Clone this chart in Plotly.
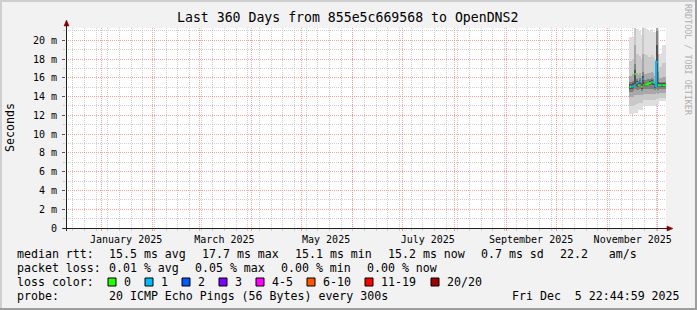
import plotly.graph_objects as go
from datetime import datetime, timedelta

# ---------------- data ----------------
title_text = "Last 360 Days from 855e5c669568 to OpenDNS2"
range_start = "2024-12-10 22:44:59"
range_end = "2025-12-05 22:44:59"

days = ["2025-11-14", "2025-11-15", "2025-11-16", "2025-11-17", "2025-11-18",
        "2025-11-19", "2025-11-20", "2025-11-21", "2025-11-22", "2025-11-23",
        "2025-11-24", "2025-11-25", "2025-11-26", "2025-11-27", "2025-11-28",
        "2025-11-29", "2025-11-30", "2025-12-01", "2025-12-02", "2025-12-03",
        "2025-12-04", "2025-12-05"]

# median rtt (ms) and lost pings per day
median_ms = [15.05, 15.05, 15.1, 16.4, 15.45, 15.2, 15.6, 15.05, 15.9, 15.3, 15.3,
             15.4, 15.45, 15.55, 15.5, 15.1, 17.7, 15.2, 15.2, 15.2, 15.2, 15.2]
loss_count = [0, 1, 1, 0, 1, 0, 1, 0, 1, 0, 0, 0, 0, 1, 0, 1, 1, 0, 0, 1, 0, 0]

# smoke bands (ms), outermost to innermost
band1_hi = [20.3, 20.3, 20.4, 21.4, 21.2, 21.2, 21.0, 20.6, 21.4, 21.4, 21.2,
            21.0, 21.0, 21.2, 20.9, 20.9, 21.4, 21.4, 18.5, 18.6, 19.5, 19.5]
band1_lo = [12.2, 12.2, 12.2, 12.3, 12.3, 12.6, 12.6, 12.6, 13.0, 13.0, 13.0,
            13.0, 13.0, 13.0, 13.0, 13.0, 13.2, 13.2, 13.5, 13.5, 13.5, 13.5]
band2_hi = [17.8, 17.8, 18.0, 21.4, 18.5, 18.5, 18.3, 18.0, 21.4, 18.5, 18.4,
            18.2, 18.2, 18.4, 18.2, 18.0, 21.4, 21.0, 17.2, 17.3, 17.6, 17.6]
band2_lo = [13.0, 13.0, 13.0, 13.1, 13.2, 13.3, 13.3, 13.3, 13.6, 13.6, 13.6,
            13.6, 13.6, 13.6, 13.6, 13.6, 13.7, 13.7, 13.9, 13.9, 13.9, 13.9]
band3_hi = [16.2, 16.2, 16.4, 19.5, 16.5, 16.3, 16.5, 16.2, 18.5, 16.4, 16.4,
            16.5, 16.5, 16.6, 16.5, 16.2, 21.4, 18.5, 16.0, 16.0, 16.1, 16.1]
band3_lo = [14.0, 14.0, 14.0, 14.2, 14.2, 14.2, 14.2, 14.2, 14.3, 14.3, 14.3,
            14.3, 14.3, 14.3, 14.3, 14.3, 14.4, 14.3, 14.4, 14.4, 14.4, 14.4]
band4_hi = [15.6, 15.6, 15.7, 17.5, 15.9, 15.7, 16.0, 15.6, 16.6, 15.8, 15.8,
            15.9, 15.9, 16.0, 15.9, 15.6, 21.0, 16.6, 15.6, 15.6, 15.6, 15.6]
band4_lo = [14.5, 14.5, 14.6, 14.8, 14.7, 14.7, 14.8, 14.6, 14.8, 14.8, 14.8,
            14.8, 14.8, 14.8, 14.8, 14.7, 14.8, 14.7, 14.8, 14.8, 14.8, 14.8]
band5_hi = [15.3, 15.3, 15.4, 16.8, 15.7, 15.4, 15.8, 15.3, 16.2, 15.5, 15.5,
            15.6, 15.7, 15.8, 15.7, 15.3, 19.5, 15.6, 15.4, 15.4, 15.4, 15.4]
band5_lo = [14.8, 14.8, 14.9, 15.3, 15.1, 15.0, 15.3, 14.8, 15.3, 15.1, 15.1,
            15.2, 15.2, 15.3, 15.2, 14.9, 15.0, 15.0, 15.0, 15.0, 15.0, 15.0]
band_colors = ["#dedede", "#c8c8c8", "#a8a8a8", "#808080", "#505050"]

month_starts = ["2025-01-01", "2025-02-01", "2025-03-01", "2025-04-01",
                "2025-05-01", "2025-06-01", "2025-07-01", "2025-08-01",
                "2025-09-01", "2025-10-01", "2025-11-01", "2025-12-01"]
month_labels = ["January 2025", "", "March 2025", "", "May 2025", "",
                "July 2025", "", "September 2025", "", "November 2025", ""]
first_week = "2024-12-15"

ytick_vals = [0, 2, 4, 6, 8, 10, 12, 14, 16, 18, 20]
ytick_text = ["0", "2 m", "4 m", "6 m", "8 m", "10 m", "12 m", "14 m",
              "16 m", "18 m", "20 m"]
y_max = 21.31

loss_labels = ["0", "1", "2", "3", "4-5", "6-10", "11-19", "20/20"]
loss_colors = ["#26ff00", "#00b8ff", "#0059ff", "#7e00ff", "#ff00ff",
               "#ff5500", "#ff0000", "#a10000"]

rtt_legend = ["median rtt:", "15.5 ms avg", "17.7 ms max", "15.1 ms min",
              "15.2 ms now", "0.7 ms sd", "22.2   am/s"]
loss_legend = ["packet loss:", "0.01 % avg", "0.05 % max", "0.00 % min",
               "0.00 % now"]
probe_text = "20 ICMP Echo Pings (56 Bytes) every 300s"
date_text = "Fri Dec  5 22:44:59 2025"

# ---------------- layout helpers ----------------
W, H = 697, 310
L, T, PW, PH = 66, 28, 600, 200
FONT = "DejaVu Sans Mono"
MGRID = "rgba(245,128,128,0.75)"
GRID = "rgba(191,191,191,0.75)"


def px(x):
    return (x - L) / PW


def py(y):
    return (T + PH - y) / PH


def nb(s):
    return s.replace(" ", "\u00a0")


fig = go.Figure()

# smoke
day_dt = [datetime.strptime(d, "%Y-%m-%d") for d in days]
centers = [d + timedelta(hours=12) for d in day_dt]
bands = [(band1_lo, band1_hi), (band2_lo, band2_hi), (band3_lo, band3_hi),
         (band4_lo, band4_hi), (band5_lo, band5_hi)]
for (lo, hi), col in zip(bands, band_colors):
    fig.add_trace(go.Bar(
        x=centers, y=[h - l for l, h in zip(lo, hi)], base=lo,
        width=86400000, marker=dict(color=col, line=dict(width=0)),
        showlegend=False, hoverinfo="skip"))


def loss_class(n):
    if n <= 3:
        return n
    if n <= 5:
        return 4
    if n <= 10:
        return 5
    if n <= 19:
        return 6
    return 7


classes = [loss_class(n) for n in loss_count]
for ci, col in enumerate(loss_colors):
    xs, ys = [], []
    prev = None
    for i, c in enumerate(classes):
        if c != ci:
            continue
        if prev is not None and prev != i - 1:
            xs.append(None)
            ys.append(None)
        xs += [day_dt[i], day_dt[i] + timedelta(days=1)]
        ys += [median_ms[i], median_ms[i]]
        prev = i
    if xs:
        fig.add_trace(go.Scatter(x=xs, y=ys, mode="lines",
                                 line=dict(color=col, width=2),
                                 connectgaps=False, showlegend=False,
                                 hoverinfo="skip"))

# week grid positions
wk = datetime.strptime(first_week, "%Y-%m-%d")
end_dt = datetime.strptime(range_end, "%Y-%m-%d %H:%M:%S")
weeks = []
while wk < end_dt:
    weeks.append(wk.strftime("%Y-%m-%d"))
    wk += timedelta(days=7)

fig.update_layout(
    width=W, height=H,
    margin=dict(l=L, r=W - L - PW, t=T, b=H - T - PH, pad=0),
    paper_bgcolor="#f2f2f2", plot_bgcolor="#ffffff",
    barmode="overlay", bargap=0, showlegend=False,
    font=dict(family=FONT, color="#000000", size=10),
    xaxis=dict(
        type="date", range=[range_start, range_end], fixedrange=True,
        tickmode="array", tickvals=month_starts, ticktext=month_labels,
        ticklabelshift=25, ticklabelstandoff=0,
        showgrid=True, gridcolor=MGRID, griddash="1px,1px", gridwidth=1,
        ticks="outside", ticklen=2, tickcolor=MGRID,
        tickfont=dict(family=FONT, size=10, color="#000000"),
        showline=False, zeroline=False,
        minor=dict(tickmode="array", tickvals=weeks, showgrid=True,
                   gridcolor=GRID, griddash="1px,1px", gridwidth=1,
                   ticks="outside", ticklen=2, tickcolor=GRID),
    ),
    yaxis=dict(
        range=[0, y_max], fixedrange=True,
        tickmode="array", tickvals=ytick_vals, ticktext=ytick_text,
        showgrid=True, gridcolor=MGRID, griddash="1px,1px", gridwidth=1,
        ticks="outside", ticklen=3, tickcolor="#555555",
        ticklabelstandoff=3,
        tickfont=dict(family=FONT, size=10, color="#000000"),
        showline=False, zeroline=False,
        minor=dict(tickmode="linear", tick0=1, dtick=2, showgrid=True,
                   gridcolor=GRID, griddash="1px,1px", gridwidth=1,
                   ticks="outside", ticklen=2, tickcolor=GRID),
    ),
)

shapes = []


def rect(x0, y0, x1, y1, fill, line=None):
    d = dict(type="rect", xref="paper", yref="paper",
             x0=px(x0), x1=px(x1), y0=py(y1), y1=py(y0),
             fillcolor=fill, layer="above",
             line=dict(width=0) if line is None else dict(color=line, width=1))
    shapes.append(d)


# frame shading
rect(0, 0, W, 2, "#cfcfcf")
rect(0, 0, 2, H, "#cfcfcf")
rect(0, H - 2, W, H, "#9e9e9e")
rect(W - 2, 0, W, H, "#9e9e9e")

# axes lines and arrows
shapes.append(dict(type="line", xref="paper", yref="paper",
                   x0=px(63), x1=px(669), y0=py(228.5), y1=py(228.5),
                   line=dict(color="#202020", width=1), layer="above"))
shapes.append(dict(type="line", xref="paper", yref="paper",
                   x0=px(66.5), x1=px(66.5), y0=py(231), y1=py(24),
                   line=dict(color="#202020", width=1), layer="above"))
shapes.append(dict(type="path", xref="paper", yref="paper",
                   path=f"M {px(64)} {py(26)} L {px(69)} {py(26)} L {px(66.5)} {py(20)} Z",
                   fillcolor="#800000", line=dict(color="#800000", width=0.5),
                   layer="above"))
shapes.append(dict(type="path", xref="paper", yref="paper",
                   path=f"M {px(667)} {py(226)} L {px(667)} {py(231)} L {px(673)} {py(228.5)} Z",
                   fillcolor="#800000", line=dict(color="#800000", width=0.5),
                   layer="above"))

annotations = []


def text(x, y, s, size=11.6, anchor="left", color="#000000", angle=0):
    annotations.append(dict(
        x=px(x), y=py(y), xref="paper", yref="paper", text=nb(s),
        showarrow=False, xanchor=anchor, yanchor="middle", textangle=angle,
        font=dict(family=FONT, size=size, color=color), borderpad=0))


text(347.5, 18, title_text, size=13.2, anchor="center")
text(10, 128, "Seconds", size=11.6, anchor="center", angle=-90)
text(688, 60, "RRDTOOL / TOBI OETIKER", size=8.4, anchor="center",
     color="#b0b0b0", angle=90)

rtt_x = [16, 108, 201, 294, 387, 480, 559]
for s, x in zip(rtt_legend, rtt_x):
    text(x, 254, s)
loss_x = [16, 108, 194, 280, 366]
for s, x in zip(loss_legend, loss_x):
    text(x, 268, s)
text(16, 282, "loss color:")
box_x = [108, 145, 182, 219, 256, 307, 365, 431]
for lab, col, bx in zip(loss_labels, loss_colors, box_x):
    rect(bx, 278, bx + 8, 286, col, line="#000000")
    text(bx + 15, 282, lab)
text(16, 296, "probe:")
text(108, 296, probe_text)
text(681, 296, date_text, anchor="right")

fig.update_layout(shapes=shapes, annotations=annotations)
fig.write_html("out.html")
